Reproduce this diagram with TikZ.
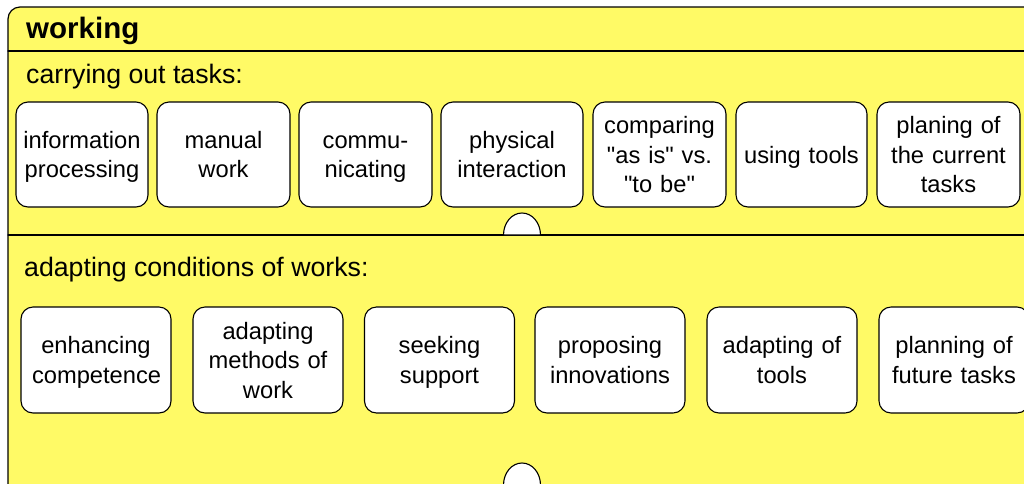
\documentclass[tikz,border=0pt]{standalone}
\usepackage{fontspec}
\setmainfont{Liberation Sans}[Ligatures=TeXOff]
\usepackage{tikz}
\usetikzlibrary{positioning}
\definecolor{boxyellow}{RGB}{255,250,102}

\begin{document}
\begin{tikzpicture}[x=1pt,y=-1pt, line cap=round, line join=round]
				\useasboundingbox (0,0) rectangle (1024,483);
				\clip (0,0) rectangle (1024,483);
				
				% ===== khung vàng ngoài =====
				\draw[fill=boxyellow, line width=1.2pt, rounded corners=12pt] (8,7) rectangle (1060,530);
				\draw[line width=1.1pt] (8,51) -- (1024,51);
				\draw[line width=1.1pt] (8,235) -- (1024,235);
				
				% ===== nửa vòng tròn =====
				\draw[fill=white, line width=1.1pt] (503.5,235) arc[start angle=180, end angle=0, x radius=18.5pt, y radius=22pt] -- cycle;
				\draw[fill=white, line width=1.1pt] (503.5,485) arc[start angle=180, end angle=0, x radius=18.5pt, y radius=22pt] -- cycle;
				
				% ===== tiêu đề =====
				\node[anchor=base west, inner sep=0pt, font=\fontsize{29.5}{34}\selectfont\bfseries] (working) at (26,38) {working};
				\node[anchor=base west, inner sep=0pt, font=\fontsize{26.7}{32}\selectfont] (carrying) at (26,83) {carrying out tasks:};
				\node[anchor=base west, inner sep=0pt, font=\fontsize{26.7}{32}\selectfont] (adapting) at (24,276) {adapting conditions of works:};
				
				% ===== style ô =====
				\tikzset{task/.style={draw=black, fill=white, line width=1.1pt, rounded corners=12pt, inner sep=0pt, text width=128pt, align=center, minimum height=105pt, font=\fontsize{23.7}{29.5}\selectfont, execute at begin node={\rule{0pt}{26pt}}, execute at end node=\strut}}
				
				% ===== hàng trên =====
				\node[task, minimum width=132pt] (info)    at (82,154.5)    {information\\processing};
				\node[task, minimum width=133pt] (manual)  at (223.5,154.5) {manual\\work};
				\node[task, minimum width=133pt] (commu)   at (365.5,154.5) {commu-\\nicating};
				\node[task, minimum width=142pt] (phys)    at (512,154.5)   {physical\\interaction};
				\node[task, minimum width=133pt] (compare) at (659.5,154.5) {comparing\\"as is" vs.\\"to be"};
				\node[task, minimum width=131pt] (tools)   at (801.5,154.5) {using tools};
				\node[task, minimum width=143pt] (planing) at (948.5,154.5) {planing of\\the current\\tasks};
				
				% ===== hàng dưới =====
				\node[task, minimum width=150pt, minimum height=106pt] (enhance) at (96,360)    {enhancing\\competence};
				\node[task, minimum width=150pt, minimum height=106pt] (methods) at (268,360)   {adapting\\methods of\\work};
				\node[task, minimum width=150pt, minimum height=106pt] (support) at (439.5,360) {seeking\\support};
				\node[task, minimum width=150pt, minimum height=106pt] (propose) at (610,360)   {proposing\\innovations};
				\node[task, minimum width=150pt, minimum height=106pt] (adtools) at (782,360)   {adapting of\\tools};
				\node[task, minimum width=150pt, minimum height=106pt] (future)  at (954,360)   {planning of\\future tasks};
			\end{tikzpicture}
\end{document}
